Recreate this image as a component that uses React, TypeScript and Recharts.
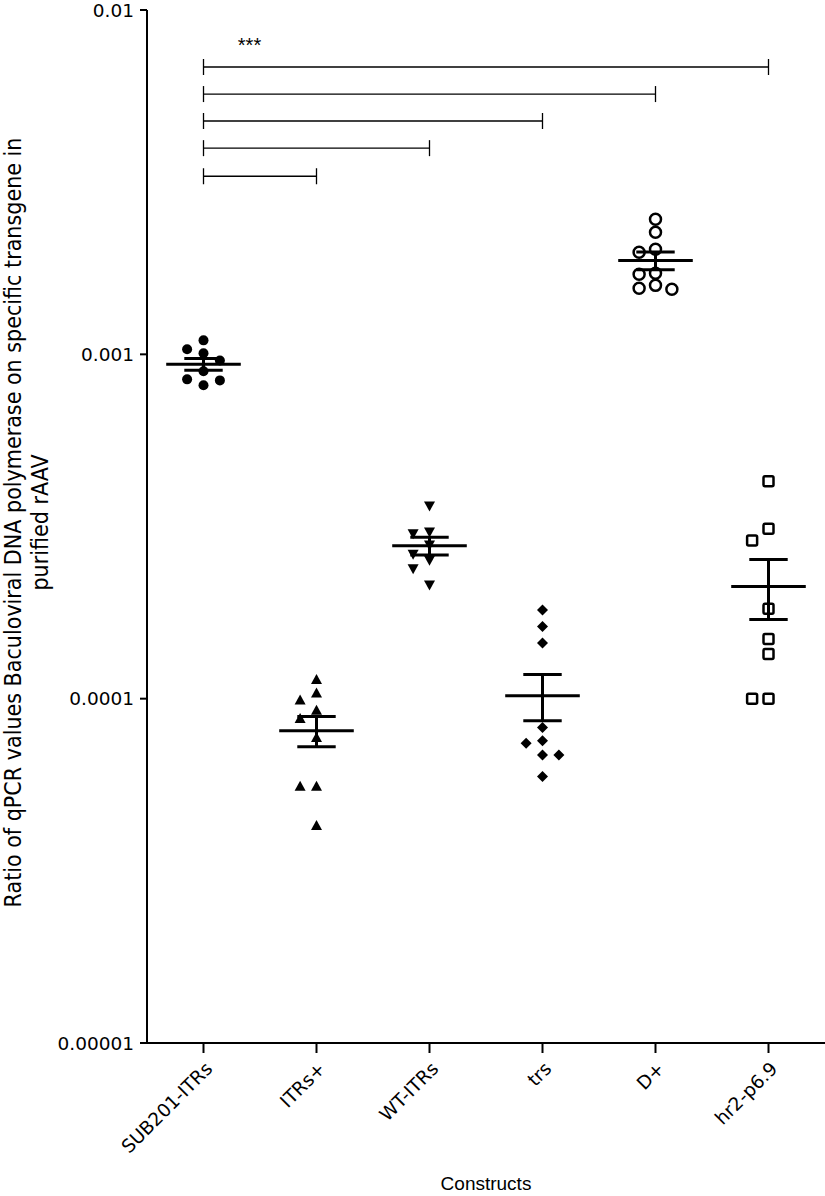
import React from 'react';
import { ScatterChart, Scatter, XAxis, YAxis, ReferenceLine } from 'recharts';

const CONSTRUCTS = ['SUB201-ITRs', 'ITRs+', 'WT-ITRs', 'trs', 'D+', 'hr2-p6.9'];

const sub201Itrs = [0.001098, 0.001034, 0.001007, 0.00096, 0.000893, 0.000846, 0.00084, 0.000813];
const itrsPlus = [0.0001133, 0.0001036, 0.0000987, 0.0000923, 0.0000873, 0.0000769, 0.0000555, 0.0000555, 0.0000427];
const wtItrs = [0.000364, 0.0003058, 0.0003023, 0.0002803, 0.0002634, 0.000253, 0.0002392, 0.0002145];
const trs = [0.000181, 0.000162, 0.0001452, 0.0000825, 0.0000755, 0.0000742, 0.0000686, 0.0000686, 0.0000594];
const dPlus = [0.002469, 0.002263, 0.002019, 0.001979, 0.00172, 0.001708, 0.001586, 0.001555, 0.001545];
const hr2P69 = [0.0004281, 0.0003113, 0.0002879, 0.0001823, 0.0001491, 0.0001349, 0.0001, 0.0001];

const GROUPS = [sub201Itrs, itrsPlus, wtItrs, trs, dPlus, hr2P69];

const Y_TICKS = [0.00001, 0.0001, 0.001, 0.01];

// comparisons all start from SUB201-ITRs
const BRACKET_TO = ['hr2-p6.9', 'D+', 'trs', 'WT-ITRs', 'ITRs+'];
const BRACKET_LEVEL = [0.00683, 0.0057, 0.00476, 0.00397, 0.00329];
const SIGNIF = '***';

const FONT = 'DejaVu Sans';
const PX_DECADE = 344;

// spread points that would overlap, like a column scatter
function dodge(values: number[]) {
  const placed: { py: number; slot: number }[] = [];
  const order = [0, -1, 1, -2, 2];
  return values.map((v) => {
    const py = -Math.log10(v) * PX_DECADE;
    const slot =
      order.find((s) => placed.every((p) => p.slot !== s || Math.abs(p.py - py) >= 12)) ?? 0;
    placed.push({ py, slot });
    return slot * 0.145;
  });
}

const stats = (vals: number[]) => {
  const n = vals.length;
  const mean = vals.reduce((a, b) => a + b, 0) / n;
  const sd = Math.sqrt(vals.reduce((a, b) => a + (b - mean) ** 2, 0) / (n - 1));
  return { mean, sem: sd / Math.sqrt(n) };
};

const shapes = [
  ({ cx, cy }: any) => <circle cx={cx} cy={cy} r={5} fill="#000" />,
  ({ cx, cy }: any) => (
    <polygon points={`${cx},${cy - 6} ${cx - 5.5},${cy + 4} ${cx + 5.5},${cy + 4}`} fill="#000" />
  ),
  ({ cx, cy }: any) => (
    <polygon points={`${cx},${cy + 6} ${cx - 5.5},${cy - 4} ${cx + 5.5},${cy - 4}`} fill="#000" />
  ),
  ({ cx, cy }: any) => (
    <polygon points={`${cx},${cy - 5.5} ${cx + 5.5},${cy} ${cx},${cy + 5.5} ${cx - 5.5},${cy}`} fill="#000" />
  ),
  ({ cx, cy }: any) => <circle cx={cx} cy={cy} r={5.5} fill="none" stroke="#000" strokeWidth={2.5} />,
  ({ cx, cy }: any) => (
    <rect x={cx - 5} y={cy - 5} width={10} height={10} rx={1.5} fill="none" stroke="#000" strokeWidth={2.5} />
  ),
];

const XTick = ({ x, y, payload }: any) => {
  const label = CONSTRUCTS[Math.round(payload.value - 0.5)];
  const ax = x + 10;
  const ay = y + 15;
  return (
    <text
      x={ax}
      y={ay}
      transform={`rotate(-45, ${ax}, ${ay})`}
      textAnchor="end"
      fontSize={18.5}
      fontFamily={FONT}
      fill="#000"
    >
      {label}
    </text>
  );
};

const YLabel = ({ viewBox }: any) => {
  const cy = viewBox.y + viewBox.height / 2 - 4;
  const lines = ['Ratio of qPCR values Baculoviral DNA polymerase on specific transgene in', 'purified rAAV'];
  return (
    <g>
      {lines.map((t, i) => {
        const cx = 13 + i * 27;
        return (
          <text
            key={i}
            x={cx}
            y={cy}
            transform={`rotate(-90, ${cx}, ${cy})`}
            textAnchor="middle"
            dominantBaseline="central"
            fontSize={23}
            fontFamily="DejaVu Sans Condensed"
            fill="#000"
          >
            {t}
          </text>
        );
      })}
    </g>
  );
};

const XLabel = ({ viewBox }: any) => (
  <text
    x={viewBox.x + viewBox.width / 2}
    y={viewBox.y + 147}
    textAnchor="middle"
    fontSize={19}
    fontFamily="Liberation Sans"
    fill="#000"
  >
    Constructs
  </text>
);

export default function App() {
  const series = GROUPS.map((vals, i) => {
    const off = dodge(vals);
    return vals.map((v, j) => ({ x: i + 0.5 + off[j], y: v }));
  });

  const summaryLines: React.ReactNode[] = [];
  GROUPS.forEach((vals, i) => {
    const { mean, sem } = stats(vals);
    const c = i + 0.5;
    const seg = (key: string, a: any, b: any) =>
      summaryLines.push(
        <ReferenceLine key={key} segment={[a, b]} stroke="#000" strokeWidth={3} ifOverflow="visible" />
      );
    seg(`m${i}`, { x: c - 0.33, y: mean }, { x: c + 0.33, y: mean });
    seg(`hi${i}`, { x: c - 0.17, y: mean + sem }, { x: c + 0.17, y: mean + sem });
    seg(`lo${i}`, { x: c - 0.17, y: mean - sem }, { x: c + 0.17, y: mean - sem });
    seg(`v${i}`, { x: c, y: mean - sem }, { x: c, y: mean + sem });
  });

  const bracketLines: React.ReactNode[] = [];
  BRACKET_TO.forEach((name, k) => {
    const x0 = 0.5;
    const x1 = CONSTRUCTS.indexOf(name) + 0.5;
    const yv = BRACKET_LEVEL[k];
    const capF = 1.055;
    bracketLines.push(
      <ReferenceLine
        key={`b${k}`}
        segment={[{ x: x0, y: yv }, { x: x1, y: yv }]}
        stroke="#000"
        strokeWidth={1.3}
        ifOverflow="visible"
        label={
          k === 0
            ? (p: any) => (
                <text
                  x={p.viewBox.x + 46}
                  y={p.viewBox.y - 15}
                  textAnchor="middle"
                  fontSize={20}
                  fontFamily="Liberation Sans"
                  fill="#000"
                >
                  {SIGNIF}
                </text>
              )
            : undefined
        }
      />,
      <ReferenceLine
        key={`bl${k}`}
        segment={[{ x: x0, y: yv / capF }, { x: x0, y: yv * capF }]}
        stroke="#000"
        strokeWidth={1.3}
        ifOverflow="visible"
      />,
      <ReferenceLine
        key={`br${k}`}
        segment={[{ x: x1, y: yv / capF }, { x: x1, y: yv * capF }]}
        stroke="#000"
        strokeWidth={1.3}
        ifOverflow="visible"
      />
    );
  });

  return (
    <div style={{ position: 'absolute', left: 0, top: 0, background: '#fff' }}>
      <ScatterChart width={825} height={1196} margin={{ top: 10, right: 0, bottom: 0, left: 0 }}>
        <XAxis
          type="number"
          dataKey="x"
          domain={[0, 6]}
          ticks={[0.5, 1.5, 2.5, 3.5, 4.5, 5.5]}
          interval={0}
          tick={<XTick />}
          tickSize={10}
          axisLine={{ stroke: '#000', strokeWidth: 2 }}
          tickLine={{ stroke: '#000', strokeWidth: 2 }}
          height={153}
          label={<XLabel />}
        />
        <YAxis
          type="number"
          dataKey="y"
          scale="log"
          domain={[0.00001, 0.01]}
          ticks={Y_TICKS}
          interval={0}
          allowDataOverflow
          width={147}
          tickSize={7}
          tickMargin={6}
          tickFormatter={(v: number) => String(v)}
          tick={{ fontSize: 18.5, fontFamily: FONT, fill: '#000' }}
          axisLine={{ stroke: '#000', strokeWidth: 2 }}
          tickLine={{ stroke: '#000', strokeWidth: 2 }}
          label={<YLabel />}
        />
        {bracketLines}
        {summaryLines}
        {series.map((d, i) => (
          <Scatter key={i} data={d} shape={shapes[i]} isAnimationActive={false} />
        ))}
      </ScatterChart>
    </div>
  );
}
